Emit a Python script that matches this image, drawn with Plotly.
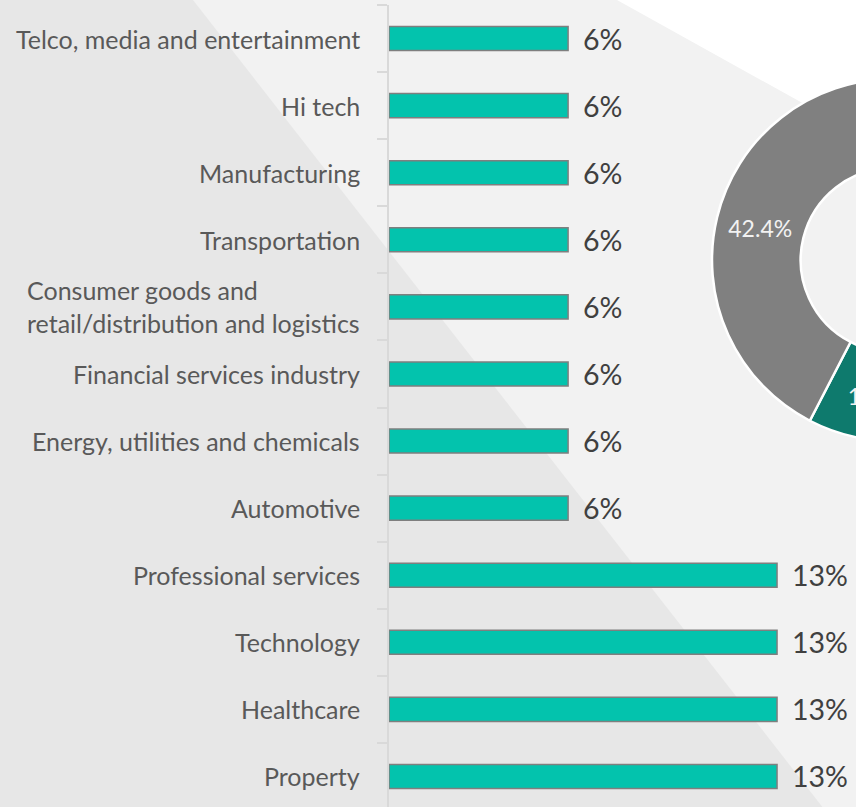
import plotly.graph_objects as go

# ---------------------------------------------------------------------------
# Data
# ---------------------------------------------------------------------------
industries = [
    "Telco, media and entertainment",
    "Hi tech",
    "Manufacturing",
    "Transportation",
    "Consumer goods and<br>retail/distribution and logistics",
    "Financial services industry",
    "Energy, utilities and chemicals",
    "Automotive",
    "Professional services",
    "Technology",
    "Healthcare",
    "Property",
]
shares = [6, 6, 6, 6, 6, 6, 6, 6, 13, 13, 13, 13]

donut_labels = ["A", "B", "C", "D"]
donut_values = [27.3, 18.2, 12.1, 42.4]
donut_colors = ["#00c4ae", "#3fa39a", "#0e7a6d", "#808080"]

_TEAL = "#03c3ad"
_EDGE = "#7f7f7f"
_AXIS = "#d9d9d9"
_LABEL = "#595959"
_VALUE = "#404040"
_FONT = "Lato"

W, H = 1080, 812


def _px(x, y):
    """pixel position (from top-left) -> paper coords"""
    return x / W, 1 - y / H


def _path(points):
    pts = [_px(x, y) for x, y in points]
    return "M " + " L ".join(f"{x:.4f},{y:.4f}" for x, y in pts) + " Z"


fig = go.Figure()

fig.add_trace(go.Bar(
    x=shares, y=industries,
    orientation="h",
    marker=dict(color=_TEAL, line=dict(color=_EDGE, width=1.5)),
    hoverinfo="skip",
    showlegend=False,
))

fig.add_trace(go.Pie(
    labels=donut_labels, values=donut_values,
    hole=0.51, sort=False, direction="clockwise", rotation=0,
    marker=dict(colors=donut_colors, line=dict(color="white", width=2.5)),
    texttemplate="%{value:.1f}%", textposition="inside",
    insidetextorientation="horizontal",
    textfont=dict(family=_FONT, size=23, color="#f2f2f2"),
    domain=dict(x=[(893 - 181) / W, (893 + 181) / W],
                y=[1 - (260 + 181) / H, 1 - (260 - 181) / H]),
    showlegend=False,
))

# category labels (left aligned blocks, right edge at fixed spot)
for name in industries:
    fig.add_annotation(
        x=362 / W, xref="paper", xanchor="right",
        y=name, yref="y", text=name, align="left",
        showarrow=False, font=dict(family=_FONT, size=25, color=_LABEL),
    )

# value labels
for name, v in zip(industries, shares):
    fig.add_annotation(
        x=v, y=name, xanchor="left", xshift=13,
        text=f"{v}%", showarrow=False,
        font=dict(family=_FONT, size=28.5, color=_VALUE),
    )

# background wedges
fig.add_shape(type="path", xref="paper", yref="paper", layer="below",
              path=_path([(0, 0), (193, 0), (193 + 0.78 * H, H), (0, H)]),
              fillcolor="#e7e7e7", line_width=0)
fig.add_shape(type="path", xref="paper", yref="paper", layer="below",
              path=_path([(617, 0), (W, (W - 617) / 1.8), (W, 0)]),
              fillcolor="#ffffff", line_width=0)

fig.update_layout(
    width=W, height=H,
    paper_bgcolor="#f2f2f2", plot_bgcolor="rgba(0,0,0,0)",
    margin=dict(l=0, r=0, t=0, b=0),
    bargap=0.64,
    font=dict(family=_FONT, color=_LABEL),
    xaxis=dict(domain=[389 / W, (389 + 20 * 29.85) / W], range=[0, 20],
               visible=False, fixedrange=True),
    yaxis=dict(domain=[1 - 810 / H, 1 - 5 / H], autorange="reversed",
               showticklabels=False, showgrid=False, zeroline=False,
               showline=True, linecolor=_AXIS, linewidth=2,
               ticks="outside", ticklen=10, tickcolor=_AXIS, tickwidth=1.5,
               tickson="boundaries", fixedrange=True),
)

fig.write_html(
    "out.html",
    post_script="document.body.style.margin='0';"
                "document.body.style.overflow='hidden';"
                "document.documentElement.style.overflow='hidden';",
)
